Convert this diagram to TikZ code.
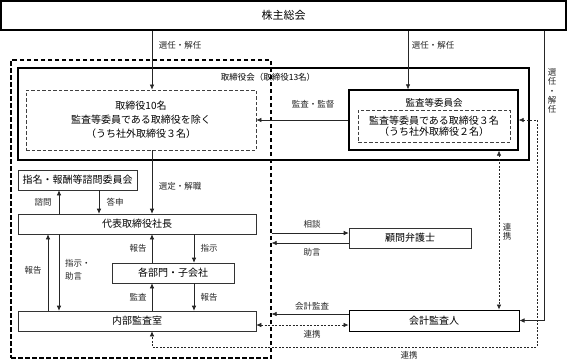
\documentclass[tikz,border=0pt]{standalone}
\usepackage{fontspec}
\setmainfont{Noto Sans CJK JP}
\usetikzlibrary{arrows.meta}
\begin{document}
\begin{tikzpicture}[x=1pt,y=-1pt,
  box/.style={draw=black!80, line width=0.6pt, inner sep=0pt, align=center, font=\fontsize{10}{14}\selectfont},
  thickbox/.style={draw=black, line width=1.3pt, inner sep=0pt},
  dbox/.style={draw=black!75, line width=0.8pt, dash pattern=on 3.5pt off 2pt, inner sep=0pt, align=center},
  outerbox/.style={draw=black, line width=1.2pt, dash pattern=on 4.5pt off 2.5pt, inner sep=0pt},
  lbl/.style={inner sep=0pt, font=\fontsize{8.5}{10}\selectfont, text=black!85},
  vlbl/.style={inner sep=0pt, align=center, font=\fontsize{8.5}{9.2}\selectfont, text=black!85},
  arr/.style={draw=black!85, line width=0.6pt, -{Latex[length=5pt,width=4.5pt]}},
  linkarr/.style={draw=black!85, line width=0.6pt, dash pattern=on 2pt off 1.5pt, {Latex[length=5pt,width=4.5pt]}-{Latex[length=5pt,width=4.5pt]}}
]
\useasboundingbox (0,0) rectangle (567,360);

% boxes
\node[box, line width=1.1pt, draw=black, minimum width=565pt, minimum height=29pt, font=\fontsize{11}{13}\selectfont] (sh) at (283.5,15.5) {株主総会};
\node[thickbox, minimum width=511pt, minimum height=92pt] (board) at (273.5,114) {};
\node[dbox, minimum width=230pt, minimum height=60pt, font=\fontsize{10}{14}\selectfont] (b10) at (141,120) {取締役10名\\監査等委員である取締役を除く\\（うち社外取締役３名）};
\node[thickbox, minimum width=169pt, minimum height=60pt] (kansa) at (433.5,120) {};
\node[dbox, minimum width=152pt, minimum height=32pt, font=\fontsize{10}{11.5}\selectfont] (kansaIn) at (434,126) {監査等委員である取締役３名\\（うち社外取締役２名）};
\node[box, minimum width=119pt, minimum height=20pt] (shimei) at (77.5,180) {指名・報酬等諮問委員会};
\node[box, minimum width=238pt, minimum height=20pt] (daihyo) at (137,224) {代表取締役社長};
\node[box, minimum width=122pt, minimum height=20pt] (kakubu) at (173,273) {各部門・子会社};
\node[box, minimum width=238pt, minimum height=20pt] (naibu) at (137,321) {内部監査室};
\node[box, minimum width=122pt, minimum height=20pt] (komon) at (410,238) {顧問弁護士};
\node[box, line width=1pt, draw=black, minimum width=170pt, minimum height=21pt] (kaikei) at (434,320.5) {会計監査人};
\node[outerbox, minimum width=260pt, minimum height=298pt] (exec) at (141,209) {};

% titles
\node[inner sep=0pt, font=\fontsize{8.5}{10}\selectfont] (boardT) at (268,77) {取締役会（取締役13名）};
\node[inner sep=0pt, font=\fontsize{9.5}{11}\selectfont] (kansaT) at (434,102.5) {監査等委員会};

% helper coordinates
\coordinate (cA) at (152,0);
\coordinate (cB) at (408,0);
\coordinate (cC) at (544,0);
\coordinate (cD) at (59,0);
\coordinate (cE) at (99,0);
\coordinate (cF) at (48,0);
\coordinate (cG) at (194,0);
\coordinate (cH) at (499,0);
\coordinate (cI) at (537,0);
\coordinate (r1) at (0,120);
\coordinate (r2) at (0,233);
\coordinate (r3) at (0,243);
\coordinate (r4) at (0,314);
\coordinate (r5) at (0,325);
\coordinate (r7) at (0,347);

% connectors
\draw[arr] (sh.south -| cA) -- (b10.north -| cA);
\draw[arr] (sh.south -| cB) -- (kansa.north -| cB);
\draw[arr] (sh.south -| cC) |- (kaikei.east);
\draw[arr] (kansa.west |- r1) -- (b10.east |- r1);
\draw[arr] (b10.south -| cA) -- (daihyo.north -| cA);
\draw[arr] (daihyo.north -| cD) -- (shimei.south -| cD);
\draw[arr] (shimei.south -| cE) -- (daihyo.north -| cE);
\draw[arr] (naibu.north -| cF) -- (daihyo.south -| cF);
\draw[arr] (daihyo.south -| cD) -- (naibu.north -| cD);
\draw[arr] (kakubu.north -| cA) -- (daihyo.south -| cA);
\draw[arr] (daihyo.south -| cG) -- (kakubu.north -| cG);
\draw[arr] (naibu.north -| cA) -- (kakubu.south -| cA);
\draw[arr] (kakubu.south -| cG) -- (naibu.north -| cG);
\draw[arr] (exec.east |- r2) -- (komon.west |- r2);
\draw[arr] (komon.west |- r3) -- (exec.east |- r3);
\draw[arr] (kaikei.west |- r4) -- (exec.east |- r4);
\draw[linkarr] (naibu.east |- r5) -- (kaikei.west |- r5);
\draw[linkarr] (kansa.south -| cH) -- (kaikei.north -| cH);
\draw[linkarr] (kansa.east |- r1) -- (cI |- r1) -- (cI |- r7) -- (cA |- r7) -- (naibu.south -| cA);

% labels
\node[lbl] (l1) at (180,45) {選任・解任};
\node[lbl] (l2) at (433,45) {選任・解任};
\node[vlbl] (l3) at (552,91) {選\\任\\・\\解\\任};
\node[lbl] (l4) at (313,104) {監査・監督};
\node[lbl] (l5) at (180,186) {選定・解職};
\node[lbl] (l6) at (43,202) {諮問};
\node[lbl] (l7) at (115,202) {答申};
\node[lbl] (l8) at (33,270) {報告};
\node[lbl, align=left, anchor=west, font=\fontsize{8.5}{12.5}\selectfont] (l9) at (65,270) {指示・\\助言};
\node[lbl] (l10) at (138,248) {報告};
\node[lbl] (l11) at (209,248) {指示};
\node[lbl] (l12) at (138,297) {監査};
\node[lbl] (l13) at (209,297) {報告};
\node[lbl] (l14) at (312,224) {相談};
\node[lbl] (l15) at (312,252) {助言};
\node[lbl] (l16) at (312,306) {会計監査};
\node[lbl] (l17) at (312,334) {連携};
\node[vlbl] (l18) at (507,232) {連\\携};
\node[lbl] (l19) at (409,355) {連携};
\end{tikzpicture}
\end{document}
